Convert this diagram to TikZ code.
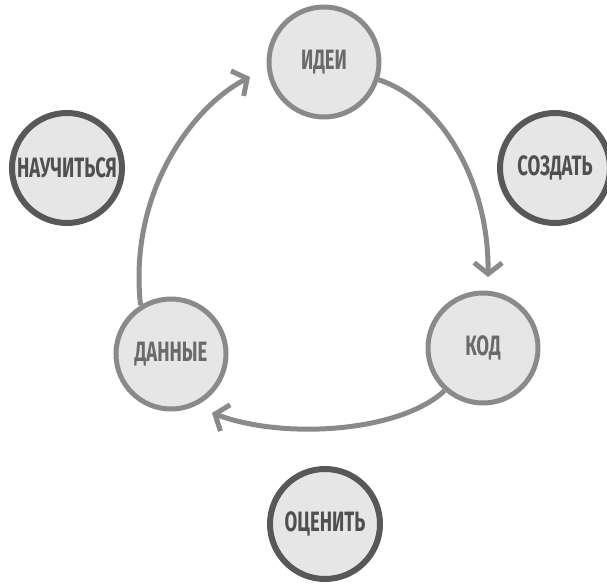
\documentclass[tikz,border=0pt]{standalone}
\usepackage{fontspec}
\setmainfont{Fira Sans}[FakeStretch=0.66]
\usetikzlibrary{arrows.meta}
\definecolor{fillg}{HTML}{E6E6E6}
\definecolor{inner}{HTML}{8A8A8A}
\definecolor{outer}{HTML}{585858}
\definecolor{txtin}{HTML}{6A6A6A}
\definecolor{txtout}{HTML}{505050}
\tikzset{
  innerc/.style={circle, minimum size=110pt, inner sep=0pt, fill=fillg, draw=inner, line width=5pt,
    font=\bfseries\fontsize{28}{28}\selectfont, text=txtin},
  outerc/.style={circle, minimum size=110pt, inner sep=0pt, fill=fillg, draw=outer, line width=6pt,
    font=\bfseries\fontsize{28}{28}\selectfont, text=txtout},
  conn/.style={draw=inner, line width=5pt, -{Straight Barb[length=11pt,width=28pt]}}
}
\begin{document}
\begin{tikzpicture}[x=1pt,y=-1pt]
\useasboundingbox (0,0) rectangle (607,585);
\node[innerc] (idei) at (324,62) {ИДЕИ};
\node[outerc] (nauch) at (67,168) {НАУЧИТЬСЯ};
\node[outerc] (sozd) at (555,168) {СОЗДАТЬ};
\node[innerc] (dan) at (171,354) {ДАННЫЕ};
\node[innerc] (kod) at (483,348) {КОД};
\node[outerc] (ocen) at (325,524) {ОЦЕНИТЬ};
\coordinate (a1) at (488,277);
\coordinate (a2) at (250,77);
\coordinate (a3) at (212,413);
\draw[conn] (idei.-18) .. controls (440,100) and (489,180) .. (a1);
\draw[conn] (dan.122) .. controls (128,190) and (195,105) .. (a2);
\draw[conn] (kod.-132) .. controls (400,432) and (285,440) .. (a3);
\end{tikzpicture}
\end{document}
